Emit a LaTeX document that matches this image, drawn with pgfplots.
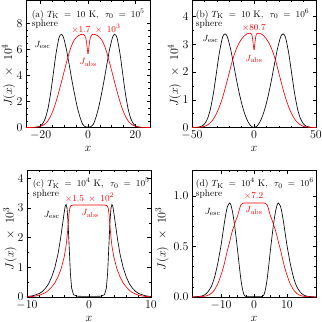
\documentclass[border=0pt]{standalone}
\usepackage{pgfplots}
\usepackage{pgfplotstable}
\pgfplotsset{compat=1.18}

\newcommand{\annfont}{\fontsize{9.5}{9.5}\selectfont}
\newcommand{\titfont}{\fontsize{9.5}{9.5}\selectfont}

\pgfplotsset{
  panel/.style={
    scale only axis, width=124bp, height=127bp,
    anchor=north west,
    tick align=inside,
    xtick pos=both, ytick pos=both,
    major tick length=3.5bp, minor tick length=2bp,
    tick style={black, line width=0.4pt},
    tick label style={font=\fontsize{11.5}{12}\selectfont},
    xlabel style={font=\fontsize{12.5}{13}\selectfont},
    xlabel={$x$},
    ymin=0,
    every axis plot/.append style={line width=0.65pt, smooth, tension=0.4},
  },
  ylab/.style n args={3}{
    ylabel={$J(x)\ \times\ 10^{#1}$},
    every axis y label/.style={at={(axis description cs:#3,#2)}, rotate=90,
      anchor=center, font=\fontsize{12.5}{13}\selectfont},
  },
  esc/.style={black},
  abs/.style={red},
}

% x  y  (positive half, mirrored in the plot)
\pgfplotstableread{
x y
0 0.03
1.13 0.06
2.26 0.25
3.39 0.8
4.52 1.55
5.65 2.53
6.78 3.60
7.91 4.78
9.04 5.92
10.17 6.80
10.74 7.06
11.3 7.15
11.87 7.05
12.43 6.76
13.56 5.62
14.69 4.09
15.82 2.59
16.95 1.42
18.08 0.68
19.21 0.285
20.34 0.104
21.47 0.033
22.6 0.009
26.2 0
}\escA
\pgfplotstableread{
x y
0 5.65
0.25 5.95
0.5 6.35
0.75 6.7
1 6.9
1.5 7.08
2 7.15
3 7.13
4 7.05
5 6.9
6 6.65
7 6.25
8 5.7
9 5.05
10 4.35
11 3.65
12 2.95
13 2.3
14 1.7
15 1.2
16 0.8
17 0.5
18 0.3
19 0.17
20 0.09
22 0.025
24 0.005
26.2 0
}\absA
\pgfplotstableread{
x y
0 0
2.34 0.048
4.68 0.193
7.02 0.433
9.36 0.769
11.7 1.197
14.04 1.704
16.38 2.258
18.72 2.797
21.06 3.214
22.23 3.338
23.4 3.38
24.57 3.333
25.74 3.197
28.08 2.658
30.42 1.935
32.76 1.224
35.1 0.673
37.44 0.322
39.78 0.135
42.12 0.049
44.46 0.016
46.8 0.004
50 0
}\escB
\pgfplotstableread{
x y
0 2.80
0.5 2.95
1 3.15
1.5 3.30
2 3.37
3 3.40
4 3.40
6 3.37
8 3.30
10 3.19
12 3.05
14 2.86
16 2.62
18 2.32
20 1.97
22 1.62
24 1.29
26 0.99
28 0.74
30 0.53
32 0.36
34 0.23
36 0.14
38 0.08
40 0.04
44 0.009
50 0
}\absB
\pgfplotstableread{
x y
0 0.02
1.0 0.02
2.0 0.03
2.5 0.08
2.8 0.3
3.0 0.8
3.2 1.7
3.4 2.6
3.55 3.0
3.7 3.12
3.85 3.05
4.0 2.85
4.3 2.4
4.6 1.95
5.0 1.45
5.5 1.0
6.0 0.68
6.5 0.45
7.0 0.3
7.5 0.19
8.0 0.12
9.0 0.045
10 0.015
}\escC
\pgfplotstableread{
x y
0 3.10
1.0 3.10
2.0 3.10
2.5 3.10
2.9 3.08
3.1 3.0
3.25 2.75
3.4 2.35
3.55 2.0
3.7 1.72
4.0 1.35
4.5 0.95
5.0 0.68
5.5 0.48
6.0 0.34
6.5 0.23
7.0 0.15
7.5 0.1
8.0 0.06
9.0 0.02
10 0.005
}\absC
\pgfplotstableread{
x y
0 0.003
1.5 0.003
2.5 0.005
3.0 0.02
3.5 0.08
4.0 0.18
4.5 0.32
5.0 0.47
5.5 0.61
6.0 0.74
6.5 0.84
7.0 0.91
7.4 0.93
8.0 0.90
8.5 0.83
9.0 0.73
9.5 0.62
10.0 0.51
10.5 0.42
11.0 0.33
12.0 0.19
13.0 0.10
14.0 0.05
15.0 0.02
16.0 0.008
18.8 0
}\escD
\pgfplotstableread{
x y
0 0.93
1.5 0.93
3.0 0.93
3.5 0.925
4.0 0.91
4.5 0.86
5.0 0.80
5.5 0.76
6.0 0.71
6.5 0.66
7.0 0.60
7.5 0.53
8.0 0.47
8.5 0.40
9.0 0.33
9.5 0.27
10 0.22
10.5 0.17
11 0.13
12 0.07
13 0.035
14 0.016
15 0.007
16 0.003
18.8 0
}\absD

\begin{document}
\begin{tikzpicture}

% (a)
\begin{axis}[panel, at={(26bp,-0.5bp)},
  xmin=-26.2, xmax=26.2, ymax=9.74,
  xtick={-20,0,20}, minor x tick num=3,
  ytick={0,2,4,6,8}, minor y tick num=3,
  ylab={4}{0.41}{-0.141}]
\addplot[esc] table[x=x, y=y] {\escA};
\addplot[esc] table[x expr=-\thisrow{x}, y=y] {\escA};
\addplot[abs] table[x=x, y=y] {\absA};
\addplot[abs] table[x expr=-\thisrow{x}, y=y] {\absA};
\node[anchor=north west, align=left, font=\titfont, inner sep=0pt] at (rel axis cs:0.045,0.935) {(a)\ $T_{\mathrm{K}}\;=\;10$\ K,\ \ $\tau_0\;=\;10^5$\\\annfont sphere};
\node[font=\annfont, red] at (axis cs:3.4,7.6) {$\times1.7\;\times\;10^3$};
\node[font=\annfont, red] at (axis cs:0.1,5.0) {$J_{\mathrm{abs}}$};
\node[font=\annfont] at (axis cs:-19.2,6.3) {$J_{\mathrm{esc}}$};
\end{axis}

% (b)
\begin{axis}[panel, at={(192bp,-0.5bp)},
  xmin=-50, xmax=50, ymax=4.58,
  xtick={-50,0,50}, minor x tick num=4,
  ytick={0,1,2,3,4}, minor y tick num=1,
  ylab={4}{0.41}{-0.141}]
\addplot[esc] table[x=x, y=y] {\escB};
\addplot[esc] table[x expr=-\thisrow{x}, y=y] {\escB};
\addplot[abs] table[x=x, y=y] {\absB};
\addplot[abs] table[x expr=-\thisrow{x}, y=y] {\absB};
\node[anchor=north west, align=left, font=\titfont, inner sep=0pt] at (rel axis cs:0.03,0.935) {(b)\ $T_{\mathrm{K}}\;=\;10$\ K,\ \ $\tau_0\;=\;10^6$\\\annfont sphere};
\node[font=\annfont, red] at (axis cs:0,3.6) {$\times80.7$};
\node[font=\annfont, red] at (axis cs:0,2.47) {$J_{\mathrm{abs}}$};
\node[font=\annfont] at (axis cs:-35,3.2) {$J_{\mathrm{esc}}$};
\end{axis}

% (c)
\begin{axis}[panel, at={(27bp,-170bp)},
  xmin=-10, xmax=10, ymax=4.28,
  xtick={-10,0,10}, minor x tick num=4,
  ytick={0,1,2,3,4}, minor y tick num=1,
  ylab={3}{0.46}{-0.137},
  every axis plot/.append style={sharp plot}]
\addplot[esc] table[x=x, y=y] {\escC};
\addplot[esc] table[x expr=-\thisrow{x}, y=y] {\escC};
\addplot[abs] table[x=x, y=y] {\absC};
\addplot[abs] table[x expr=-\thisrow{x}, y=y] {\absC};
\node[anchor=north west, align=left, font=\titfont, inner sep=0pt] at (rel axis cs:0.045,0.935) {(c)\ $T_{\mathrm{K}}\;=\;10^4$\ K,\ \ $\tau_0\;=\;10^5$\\\annfont sphere};
\node[font=\annfont, red] at (axis cs:0.1,3.36) {$\times1.5\;\times\;10^2$};
\node[font=\annfont, red] at (axis cs:0.2,2.82) {$J_{\mathrm{abs}}$};
\node[font=\annfont] at (axis cs:-6.0,2.78) {$J_{\mathrm{esc}}$};
\end{axis}

% (d)
\begin{axis}[panel, at={(192bp,-170bp)},
  xmin=-18.8, xmax=18.8, ymax=1.257,
  xtick={-10,0,10}, minor x tick num=3,
  ytick={0,0.5,1}, minor y tick num=4,
  yticklabel style={/pgf/number format/.cd, fixed, fixed zerofill, precision=1},
  ylab={3}{0.46}{-0.242}]
\addplot[esc] table[x=x, y=y] {\escD};
\addplot[esc] table[x expr=-\thisrow{x}, y=y] {\escD};
\addplot[abs] table[x=x, y=y] {\absD};
\addplot[abs] table[x expr=-\thisrow{x}, y=y] {\absD};
\node[anchor=north west, align=left, font=\titfont, inner sep=0pt] at (rel axis cs:0.03,0.935) {(d)\ $T_{\mathrm{K}}\;=\;10^4$\ K,\ \ $\tau_0\;=\;10^6$\\\annfont sphere};
\node[font=\annfont, red] at (axis cs:-0.1,1.0) {$\times7.2$};
\node[font=\annfont, red] at (axis cs:0,0.86) {$J_{\mathrm{abs}}$};
\node[font=\annfont] at (axis cs:-12.5,0.84) {$J_{\mathrm{esc}}$};
\end{axis}

\pgfresetboundingbox
\path[use as bounding box] (0,0) rectangle (322bp,-322bp);
\end{tikzpicture}
\end{document}
